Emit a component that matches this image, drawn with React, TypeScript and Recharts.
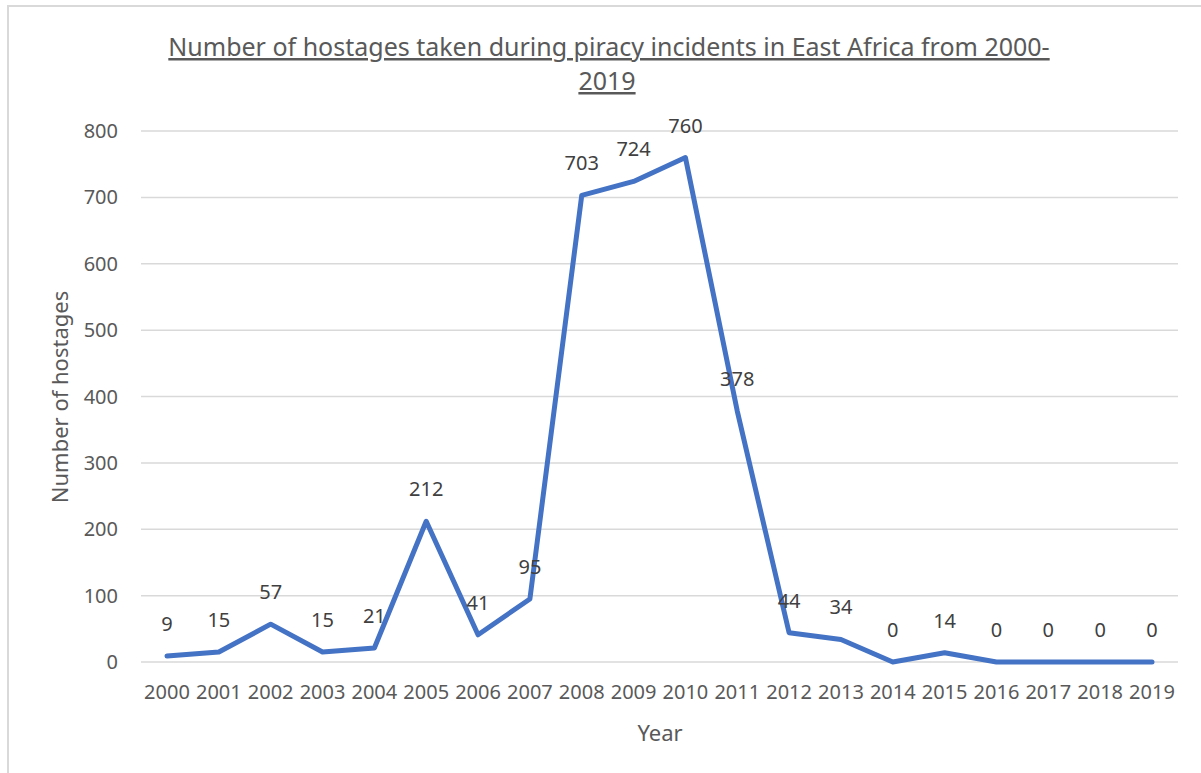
import React from "react";
import { LineChart, Line, XAxis, YAxis, CartesianGrid, LabelList } from "recharts";

const years = ["2000","2001","2002","2003","2004","2005","2006","2007","2008","2009","2010","2011","2012","2013","2014","2015","2016","2017","2018","2019"];
const hostages = [9,15,57,15,21,212,41,95,703,724,760,378,44,34,0,14,0,0,0,0];
const yTicks = [0,100,200,300,400,500,600,700,800];

const titleLine1 = "Number of hostages taken during piracy incidents in East Africa from 2000-";
const titleLine2 = "2019";
const yLabel = "Number of hostages";
const xLabel = "Year";

const data = years.map((y, i) => ({ year: y, value: hostages[i] }));

const FONT = "'Noto Sans', 'Open Sans', sans-serif";
const TICK = "#595959";

const DataLabel = (props: any) => {
  const { x, y, value } = props;
  return (
    <text x={x} y={y - 25} textAnchor="middle" fontSize={20} fontFamily={FONT} fill="#404040">
      {value}
    </text>
  );
};

export default function App() {
  return (
    <div style={{ position: "absolute", left: 0, top: 0, width: 1201, height: 773, overflow: "hidden", background: "#fff" }}>
      <div style={{ position: "absolute", left: 7, top: 5, width: 1300, height: 900, borderLeft: "2px solid #d9d9d9", borderTop: "2px solid #d9d9d9" }} />
      <div style={{ position: "absolute", left: 0, top: 0 }}>
        <LineChart width={1201} height={773} data={data} margin={{ top: 131, right: 23, left: 0, bottom: 0 }}>
          <CartesianGrid vertical={false} stroke="#d9d9d9" strokeWidth={1.5} />
          <XAxis
            dataKey="year"
            height={111}
            axisLine={false}
            tickLine={false}
            tickMargin={17}
            interval={0}
            padding={{ left: 26, right: 26 }}
            tick={{ fontSize: 20, fontFamily: FONT, fill: TICK }}
          />
          <YAxis
            width={141}
            domain={[0, 800]}
            ticks={yTicks}
            axisLine={false}
            tickLine={false}
            tickMargin={17}
            tick={{ fontSize: 20, fontFamily: FONT, fill: TICK }}
          />
          <Line
            type="linear"
            dataKey="value"
            stroke="#4472C4"
            strokeWidth={5}
            strokeLinejoin="round"
            strokeLinecap="round"
            dot={false}
            isAnimationActive={false}
          >
            <LabelList dataKey="value" content={<DataLabel />} />
          </Line>
        </LineChart>
      </div>
      <svg width={1201} height={773} style={{ position: "absolute", left: 0, top: 0, pointerEvents: "none" }}>
        <text x={609} y={56} textAnchor="middle" fontSize={25} fontFamily={FONT} fill={TICK} style={{ textDecoration: "underline" }}>
          {titleLine1}
        </text>
        <text x={607} y={90} textAnchor="middle" fontSize={25} fontFamily={FONT} fill={TICK} style={{ textDecoration: "underline" }}>
          {titleLine2}
        </text>
        <text x={0} y={0} transform="translate(68,397) rotate(-90)" textAnchor="middle" fontSize={22} fontFamily={FONT} fill={TICK}>
          {yLabel}
        </text>
        <text x={660} y={741} textAnchor="middle" fontSize={22} fontFamily={FONT} fill={TICK}>
          {xLabel}
        </text>
      </svg>
    </div>
  );
}
